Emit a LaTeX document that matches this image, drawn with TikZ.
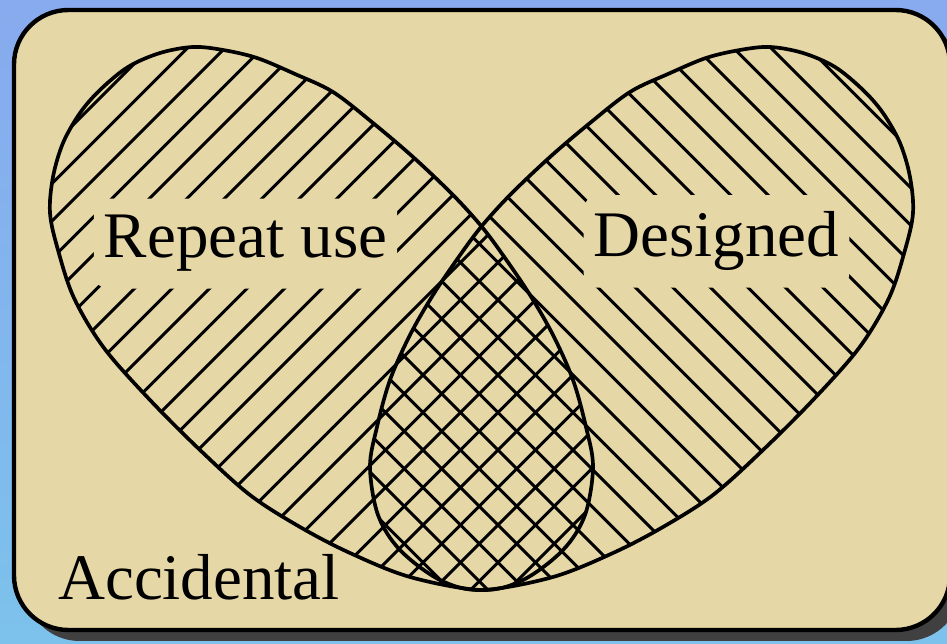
\documentclass[tikz,border=0pt]{standalone}
\usepackage{fontspec}
\setmainfont{Liberation Serif}

\definecolor{tanbg}{RGB}{230,216,166}
\definecolor{skytop}{RGB}{136,170,238}
\definecolor{skybot}{RGB}{124,194,236}
\definecolor{shadowgray}{RGB}{64,64,64}

\tikzset{
    leafpath/.style={insert path={plot[smooth cycle, tension=0.55] coordinates {
        (482,227) (453,195) (413,157) (373,123) (333,92) (295,74) (257,58)
        (223,50) (193,47) (160,53) (128,67) (100,90) (80,113) (63,143)
        (53,177) (50,213) (58,250) (74,298) (104,348) (150,400) (200,450)
        (250,495) (300,527) (350,553) (410,577) (481,590) (523,580) (563,550)
        (585,515) (593,467) (586,427) (573,380) (553,335) (530,295) (505,258)}}},
    hatch/.style={line width=1.7pt},
    outline/.style={line width=2.1pt},
    lbltext/.style={font=\fontsize{37}{44}\selectfont, anchor=base},
    lbl/.style={lbltext, fill=tanbg, rounded corners=8pt, inner xsep=5.7pt, inner ysep=9.5pt}
}

\begin{document}
\begin{tikzpicture}[x=0.02cm, y=-0.02cm]
    \clip (0,0) rectangle (947,644);
    % background and panel
    \shade[top color=skytop, bottom color=skybot] (0,0) rectangle (947,644);
    \fill[shadowgray, rounded corners=31pt] (25,21) rectangle (961,641);
    \draw[line width=2.5pt, fill=tanbg, rounded corners=31pt] (14,10) rectangle (950,630);

    % (a) left leaf, hatched /
    \begin{scope}
        \clip[leafpath];
        \foreach \k in {3,...,31}
            \draw[hatch] ({10.5+37.5*\k},0) -- ++(-700,700);
    \end{scope}

    % (b) right leaf, mirrored, hatched \
    \begin{scope}[shift={(963,0)}, xscale=-1]
        \clip[leafpath];
        \foreach \k in {3,...,31}
            \draw[hatch] ({15+37.5*\k},0) -- ++(-700,700);
    \end{scope}

    % outlines
    \draw[outline, leafpath];
    \draw[outline, shift={(963,0)}, xscale=-1, leafpath];

    % labels
    \node[lbl] (repeat) at (245.5,258) {Repeat use};
    \node[lbl] (designed) at (716.5,257) {Designed};
    \node[lbltext] (accidental) at (199,600) {Accidental};
\end{tikzpicture}
\end{document}
